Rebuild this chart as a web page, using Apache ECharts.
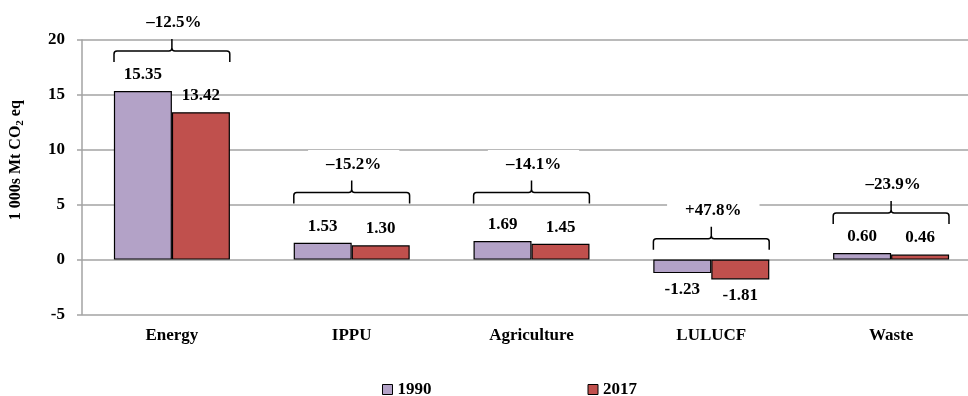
<!DOCTYPE html>
<html>
<head>
<meta charset="utf-8">
<script src="https://cdn.jsdelivr.net/npm/echarts@6/dist/echarts.min.js"></script>
<style>
  html, body { margin: 0; padding: 0; background: #fff; }
  #chart { width: 968px; height: 396px; }
</style>
</head>
<body>
<div id="chart"></div>
<script>
// GHG emissions by sector, 1990 vs 2017 (thousands of Mt CO2 eq)
const categories = ['Energy', 'IPPU', 'Agriculture', 'LULUCF', 'Waste'];
const values1990 = [15.35, 1.53, 1.69, -1.23, 0.60];
const values2017 = [13.42, 1.30, 1.45, -1.81, 0.46];
const changeLabels = ['\u201312.5%', '\u201315.2%', '\u201314.1%', '+47.8%', '\u201323.9%'];
// height (axis units) of each group's brace
const braceLevels = [19.0, 6.1, 6.1, 1.9, 4.25];
const yTicks = { min: -5, max: 20, interval: 5 };

const FONT = '"Liberation Serif", "Times New Roman", serif';
const GRID_GRAY = '#a3a3a3';

const chart = echarts.init(document.getElementById('chart'), null, { renderer: 'canvas' });

function barData(vals) {
  return vals.map(v => ({
    value: v,
    label: { position: v < 0 ? 'bottom' : 'top' }
  }));
}

const barLabel = {
  show: true,
  distance: 8,
  color: '#000',
  fontFamily: FONT,
  fontWeight: 'bold',
  fontSize: 17,
  formatter: p => p.value.toFixed(2)
};

function renderBrace(params, api) {
  const idx = api.value(0);
  const c = api.coord([idx, api.value(1)]);
  const half = api.size([1, 0])[0] * 0.322;
  const xc = c[0], y = c[1];
  const x0 = xc - half, x1 = xc + half;
  const r = 3, drop = 11, rise = 12;
  const d = [
    'M', x0, y + drop,
    'L', x0, y + r,
    'Q', x0, y, x0 + r, y,
    'L', xc - r, y,
    'Q', xc, y, xc, y - r,
    'L', xc, y - rise,
    'M', xc, y - r,
    'Q', xc, y, xc + r, y,
    'L', x1 - r, y,
    'Q', x1, y, x1, y + r,
    'L', x1, y + drop
  ].join(' ');
  return {
    type: 'group',
    children: [
      {
        type: 'text',
        z2: 1,
        style: {
          x: xc + 2,
          y: y - 28,
          text: changeLabels[idx],
          align: 'center',
          verticalAlign: 'middle',
          fill: '#000',
          font: 'bold 17px ' + FONT,
          backgroundColor: '#fff',
          padding: [8, 18, 4, 18]
        }
      },
      {
        type: 'path',
        z2: 2,
        shape: { pathData: d },
        style: { fill: 'none', stroke: '#000', lineWidth: 1.5 }
      }
    ]
  };
}

const option = {
  backgroundColor: '#fff',
  animation: false,
  grid: { left: 82, top: 40, width: 899, height: 274.5, containLabel: false, outerBoundsMode: 'none' },
  legend: {
    left: 377,
    top: 376,
    icon: 'rect',
    itemWidth: 10,
    itemHeight: 10,
    itemGap: 156,
    itemStyle: { borderColor: '#000', borderWidth: 1 },
    textStyle: { fontFamily: FONT, fontWeight: 'bold', fontSize: 17, color: '#000' },
    data: ['1990', '2017']
  },
  xAxis: {
    type: 'category',
    data: categories,
    axisLine: { show: false, onZero: false },
    axisTick: { show: false },
    axisLabel: { margin: 13, color: '#000', fontFamily: FONT, fontWeight: 'bold', fontSize: 17 }
  },
  yAxis: {
    type: 'value',
    min: yTicks.min,
    max: yTicks.max,
    interval: yTicks.interval,
    name: '1 000s Mt CO{sub|2} eq',
    nameLocation: 'middle',
    nameGap: 56,
    nameTextStyle: {
      color: '#000',
      fontFamily: FONT,
      fontWeight: 'bold',
      fontSize: 16,
      lineHeight: 20,
      padding: [0, 0, 0, 34],
      rich: {
        sub: { fontFamily: FONT, fontWeight: 'bold', fontSize: 11, lineHeight: 10, verticalAlign: 'bottom' }
      }
    },
    axisLine: { show: true, lineStyle: { color: GRID_GRAY, width: 1.5 } },
    axisTick: { show: true, length: 5, lineStyle: { color: GRID_GRAY, width: 1.5 } },
    axisLabel: { margin: 17, color: '#000', fontFamily: FONT, fontWeight: 'bold', fontSize: 17 },
    splitLine: { show: true, lineStyle: { color: GRID_GRAY, width: 1.5 } }
  },
  series: [
    {
      name: '1990',
      type: 'bar',
      data: barData(values1990),
      barWidth: 58,
      barGap: '0%',
      itemStyle: { color: '#b3a2c7', borderColor: '#000', borderWidth: 1.2 },
      label: barLabel,
      z: 3
    },
    {
      name: '2017',
      type: 'bar',
      data: barData(values2017),
      barWidth: 58,
      barGap: '0%',
      itemStyle: { color: '#c0504d', borderColor: '#000', borderWidth: 1.2 },
      label: barLabel,
      z: 3
    },
    {
      name: 'change',
      type: 'custom',
      renderItem: renderBrace,
      data: braceLevels.map((lvl, i) => [i, lvl]),
      silent: true,
      z: 4
    }
  ]
};

chart.setOption(option);
</script>
</body>
</html>
